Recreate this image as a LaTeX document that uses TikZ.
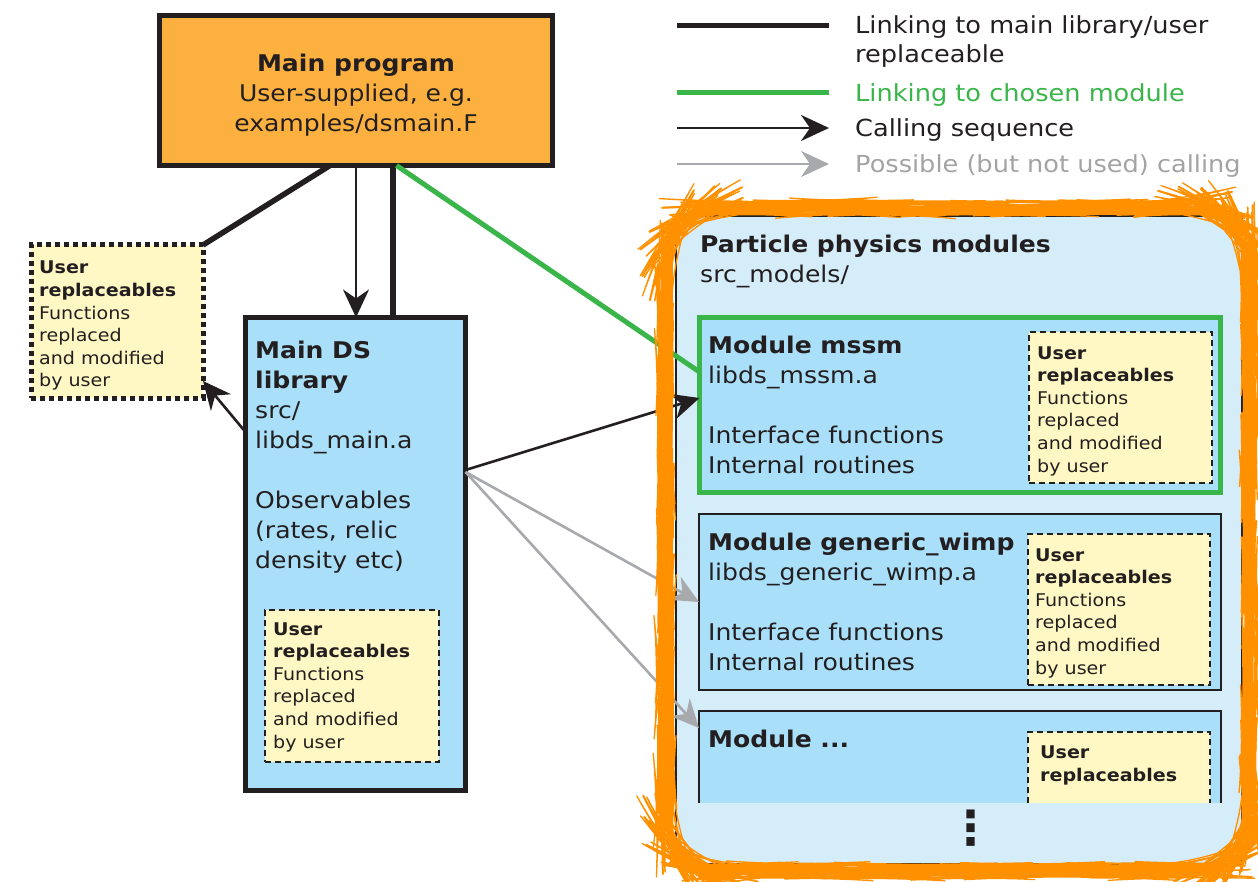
\documentclass[tikz,border=0pt]{standalone}
\usepackage{fontspec}
\setmainfont{DejaVu Sans}[FakeStretch=1.09]
\newfontfamily\dotsfont{DejaVu Sans}
\usetikzlibrary{arrows.meta,decorations.pathmorphing}
\definecolor{ink}{HTML}{231F20}
\definecolor{progorange}{HTML}{FBB040}
\definecolor{libblue}{HTML}{A9DFF8}
\definecolor{panelblue}{HTML}{D5ECF9}
\definecolor{userylw}{HTML}{FFF8C4}
\definecolor{linkgreen}{HTML}{39B54A}
\definecolor{callgray}{HTML}{A7A9AC}
\definecolor{txtgray}{HTML}{A3A3A3}
\definecolor{sketch}{HTML}{FF9000}
\begin{document}
\begin{tikzpicture}[x=1pt,y=-1pt,
  bigtxt/.style={font=\fontsize{23}{30}\selectfont, text=ink, inner sep=0, align=left, anchor=base west},
  smalltxt/.style={font=\fontsize{17.5}{22.6}\selectfont, text=ink, inner sep=0, align=left, anchor=base west},
  legtxt/.style={font=\fontsize{23.5}{29}\selectfont, inner sep=0, align=left, anchor=base west},
  boxnode/.style={draw=ink, inner sep=0, outer sep=0, anchor=north west},
  userbox/.style={boxnode, fill=userylw, line width=1.5pt, dash pattern=on 6pt off 4pt},
  linkline/.style={draw=ink, line width=5.5pt},
  greenline/.style={draw=linkgreen, line width=5pt},
  callarrow/.style={draw=ink, line width=2.6pt, -{Stealth[length=28pt,width=26pt,inset=9pt]}},
  grayarrow/.style={draw=callgray, line width=2.6pt, -{Stealth[length=28pt,width=26pt,inset=9pt]}},
  sketchline/.style={draw=sketch, line join=round, line cap=round, decorate, decoration={random steps, segment length=18pt, amplitude=1pt}}
]
\useasboundingbox (0,0) rectangle (1258,882);

% ---------- right panel ----------
\node[boxnode, fill=panelblue, line width=2.5pt, minimum width=566pt, minimum height=648pt] (panel) at (676,216) {};
\node[bigtxt] (paneltxt) at (700,283) {\textbf{Particle physics modules}\\src\_models/};

% module mssm
\node[boxnode, draw=linkgreen, fill=libblue, line width=5pt, minimum width=521pt, minimum height=175pt] (mssm) at (699.5,317.5) {};
\node[bigtxt] (mssmtxt) at (708,473) {\textbf{Module mssm}\\libds\_mssm.a\\[30pt]Interface functions\\Internal routines};
\node[userbox, minimum width=183pt, minimum height=151pt] (mssmuser) at (1029,332) {};
\node[smalltxt] (mssmusertxt) at (1037,472) {\textbf{User}\\\textbf{replaceables}\\Functions\\replaced\\and modified\\by user};

% module generic_wimp
\node[boxnode, fill=libblue, line width=1.5pt, minimum width=522pt, minimum height=176pt] (generic) at (699,514) {};
\node[bigtxt] (generictxt) at (708,670) {\textbf{Module generic\_wimp}\\libds\_generic\_wimp.a\\[30pt]Interface functions\\Internal routines};
\node[userbox, minimum width=182pt, minimum height=151pt] (genericuser) at (1028,534) {};
\node[smalltxt] (genericusertxt) at (1035,674) {\textbf{User}\\\textbf{replaceables}\\Functions\\replaced\\and modified\\by user};

% module ...
\node[boxnode, draw=none, fill=libblue, minimum width=522pt, minimum height=92pt] (mdots) at (699,711) {};
\draw[ink, line width=1.5pt] (mdots.south west) |- (mdots.north east) -- (mdots.south east);
\node[bigtxt] (mdotstxt) at (708,747) {\textbf{Module ...}};
\node[boxnode, draw=none, fill=userylw, minimum width=182pt, minimum height=71pt] (mdotsuser) at (1028,732) {};
\draw[ink, line width=1.5pt, dash pattern=on 6pt off 4pt] (mdotsuser.south west) |- (mdotsuser.north east) -- (mdotsuser.south east);
\node[smalltxt] (mdotsusertxt) at (1040,781) {\textbf{User}\\\textbf{replaceables}};
\node[font=\dotsfont\bfseries\fontsize{47}{47}\selectfont, text=ink, inner sep=0, anchor=center] (vdots) at (971,828) {⋮};

% ---------- left side ----------
\node[boxnode, fill=progorange, line width=5pt, minimum width=393pt, minimum height=150pt] (main) at (159.5,15.5) {};
\node[bigtxt, align=center, anchor=base] (maintxt) at (356,132) {\textbf{Main program}\\User-supplied, e.g.\\examples/dsmain.F};

\node[boxnode, fill=userylw, line width=5pt, dash pattern=on 5pt off 4pt, minimum width=172pt, minimum height=153pt] (leftuser) at (31,245) {};
\node[smalltxt] (leftusertxt) at (39,387) {\textbf{User}\\\textbf{replaceables}\\Functions\\replaced\\and modified\\by user};

\node[boxnode, fill=libblue, line width=5pt, minimum width=220pt, minimum height=473pt] (ds) at (245.5,317.5) {};
\node[bigtxt] (dstxt) at (255,568) {\textbf{Main DS}\\\textbf{library}\\src/\\libds\_main.a\\[30pt]Observables\\(rates, relic\\density etc)};
\node[userbox, minimum width=174pt, minimum height=152pt] (dsuser) at (265,610) {};
\node[smalltxt] (dsusertxt) at (273,748) {\textbf{User}\\\textbf{replaceables}\\Functions\\replaced\\and modified\\by user};

% ---------- connectors ----------
\draw[linkline] ([xshift=170.5pt]main.south west) -- (leftuser.north east);
\draw[callarrow] ([xshift=196.5pt]main.south west) -- ([xshift=110.5pt]ds.north west);
\draw[linkline] ([xshift=233.5pt]main.south west) -- ([xshift=147.5pt]ds.north west);
\draw[greenline] ([xshift=237pt]main.south west) -- ([yshift=-54.5pt]mssm.north west);
\draw[callarrow] ([yshift=-114.5pt]ds.north west) -- ([yshift=-136pt]leftuser.north east);
\draw[callarrow] ([yshift=-152.5pt]ds.north east) -- ([yshift=-80.5pt]mssm.north west);
\draw[grayarrow] ([yshift=-154.5pt]ds.north east) -- ([yshift=-88pt]generic.north west);
\draw[grayarrow] ([yshift=-154.5pt]ds.north east) -- ([yshift=-17pt]mdots.north west);

% ---------- legend ----------
\coordinate (la1) at (677,26);  \coordinate (lb1) at (829,26);
\coordinate (la2) at (677,93);  \coordinate (lb2) at (829,93);
\coordinate (la3) at (677,128); \coordinate (lb3) at (829,128);
\coordinate (la4) at (677,164); \coordinate (lb4) at (829,164);
\draw[draw=ink, line width=5pt] (la1) -- (lb1);
\draw[greenline] (la2) -- (lb2);
\draw[callarrow] (la3) -- (lb3);
\draw[grayarrow] (la4) -- (lb4);
\node[legtxt, text=ink] (leg1) at (855,63) {Linking to main library/user\\replaceable};
\node[legtxt, text=linkgreen] (leg2) at (855,102) {Linking to chosen module};
\node[legtxt, text=ink] (leg3) at (855,137) {Calling sequence};
\node[legtxt, text=txtgray] (leg4) at (855,173) {Possible (but not used) calling};

% ---------- orange sketch loop ----------
\pgfmathsetseed{11}
\draw[draw=sketch, line width=6pt, rounded corners=58pt] (666,209) rectangle (1248,870);
\draw[sketchline, line width=2pt, rounded corners=60pt] (662,205) rectangle (1252,874);
\draw[sketchline, line width=2pt, rounded corners=56pt] (670,212) rectangle (1245,866);
\draw[sketchline, line width=1.3pt, rounded corners=62pt] (659,202) rectangle (1255,877);
\draw[sketchline, line width=1.3pt, rounded corners=54pt] (672,214) rectangle (1243,864);
\draw[sketchline, line width=1.5pt, rounded corners=58pt] (664,207) rectangle (1250,872);
\end{tikzpicture}
\end{document}
